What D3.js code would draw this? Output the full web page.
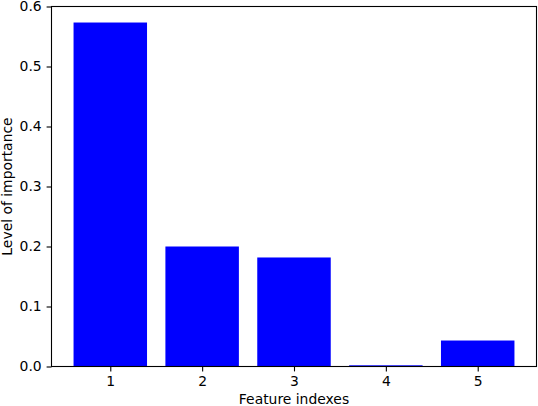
<!DOCTYPE html>
<html><head><meta charset="utf-8">
<script src="https://cdn.jsdelivr.net/npm/d3@7"></script>
<style>body{margin:0;background:#fff}svg{display:block}text{font-family:"DejaVu Sans",sans-serif}</style>
</head><body>
<svg id="c" width="538" height="406"></svg>
<script>
const categories = [1, 2, 3, 4, 5];
const importance = [0.5733, 0.2, 0.1817, 0.002, 0.0433];
const yTicks = [0, 0.1, 0.2, 0.3, 0.4, 0.5, 0.6];

(function () {
const svg = d3.select("#c");
const mLeft = 51.5, mRight = 536.5, mTop = 6.5, mBottom = 366.5;
const fs = 13.9;
const x = d3.scaleLinear().domain([0.36, 5.64]).range([mLeft, mRight]);
const y = d3.scaleLinear().domain([0, 0.6]).range([mBottom, mTop]);
const bw = 0.8;

svg.append("g").selectAll("rect").data(categories).join("rect")
  .attr("x", (d) => x(d - bw/2))
  .attr("width", (d) => x(d + bw/2) - x(d - bw/2))
  .attr("y", (d, i) => y(importance[i]))
  .attr("height", (d, i) => y(0) - y(importance[i]))
  .attr("fill", "#0000ff");

const xAxis = svg.append("g").attr("transform", `translate(0,${mBottom})`)
  .call(d3.axisBottom(x).tickValues(categories).tickFormat(d3.format("d")).tickSize(4.9).tickPadding(4.9));
const yAxis = svg.append("g").attr("transform", `translate(${mLeft},0)`)
  .call(d3.axisLeft(y).tickValues(yTicks).tickFormat(d3.format(".1f")).tickSize(4.9).tickPadding(4.9));
[xAxis, yAxis].forEach(g => {
  g.select(".domain").remove();
  g.selectAll("text").attr("font-size", fs).attr("fill", "#000").attr("font-family", "DejaVu Sans");
  g.selectAll("line").attr("stroke", "#000").attr("stroke-width", 1.1);
});

svg.append("rect").attr("x", mLeft).attr("y", mTop).attr("width", mRight-mLeft).attr("height", mBottom-mTop)
  .attr("fill", "none").attr("stroke", "#000").attr("stroke-width", 1.1);

svg.append("text").attr("x", (mLeft+mRight)/2).attr("y", 403.5).attr("text-anchor", "middle")
  .attr("font-size", fs).text("Feature indexes");
svg.append("text").attr("transform", `translate(12,${(mTop+mBottom)/2}) rotate(-90)`).attr("text-anchor", "middle")
  .attr("font-size", fs).text("Level of importance");
})();
</script>
</body></html>
